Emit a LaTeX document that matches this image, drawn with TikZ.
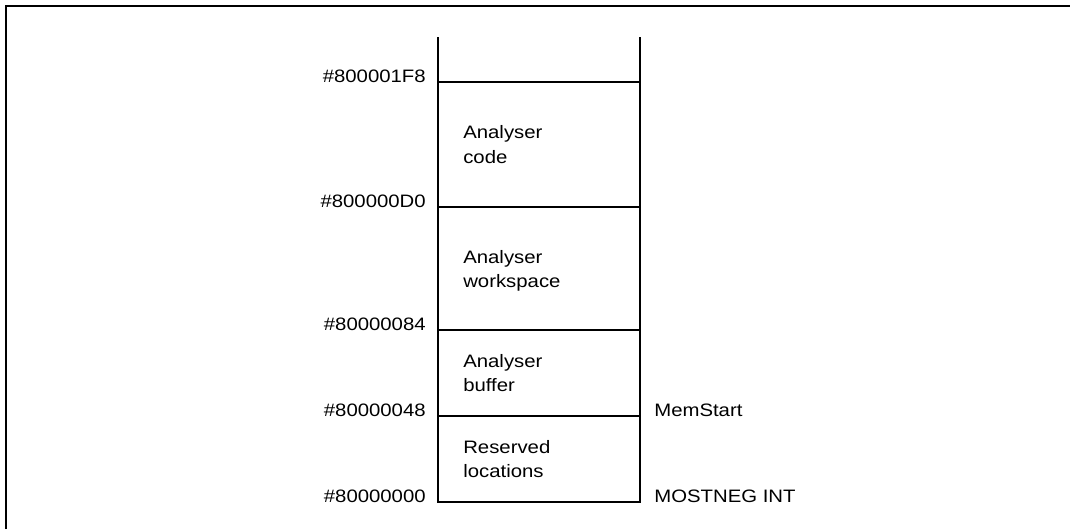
\documentclass[tikz,border=0pt]{standalone}
\usepackage{fontspec}
\setmainfont{Liberation Sans}
\begin{document}
\begin{tikzpicture}[x=0.75pt,y=-0.75pt,
  ln/.style={line width=1.8pt,line cap=rect},
  txt/.style={inner sep=0pt,font=\fontsize{13.5}{18}\selectfont,xscale=1.13,transform shape},
  addr/.style={txt,anchor=base east},
  inlbl/.style={txt,anchor=base west},
  rlbl/.style={txt,anchor=base west}]
\useasboundingbox (0,0) rectangle (1075,529);
% frame
\coordinate (fbl) at (6,529);
\coordinate (ftl) at (6,6);
\coordinate (ftr) at (1070,6);
\draw[ln,line cap=butt] (fbl) -- (ftl) -- (ftr);
% column
\coordinate (lt) at (438,37);
\coordinate (rt) at (640,37);
\coordinate (lb) at (438,502);
\coordinate (rb) at (640,502);
\draw[ln,line cap=butt] (lt) -- (lb) -- (rb) -- (rt);
\foreach \n/\y in {a/82,b/207,c/330,d/416}{
  \coordinate (\n l) at (438,\y);
  \coordinate (\n r) at (640,\y);
  \draw[ln] (\n l) -- (\n r);
}
% addresses
\node[addr] (A1) at (426,82) {\#800001F8};
\node[addr] (A2) at (426,207) {\#800000D0};
\node[addr] (A3) at (426,330) {\#80000084};
\node[addr] (A4) at (426,416) {\#80000048};
\node[addr] (A5) at (426,502) {\#80000000};
% region labels
\node[inlbl] (c1) at (463,138) {Analyser};
\node[inlbl] (c2) at (463,163) {code};
\node[inlbl] (w1) at (463,263) {Analyser};
\node[inlbl] (w2) at (463,287) {workspace};
\node[inlbl] (b1) at (463,367) {Analyser};
\node[inlbl] (b2) at (463,391) {buffer};
\node[inlbl] (r1) at (463,453) {Reserved};
\node[inlbl] (r2) at (463,477) {locations};
% right labels
\node[rlbl] (ms) at (654,416) {MemStart};
\node[rlbl] (mn) at (654,502) {MOSTNEG INT};
\end{tikzpicture}
\end{document}
